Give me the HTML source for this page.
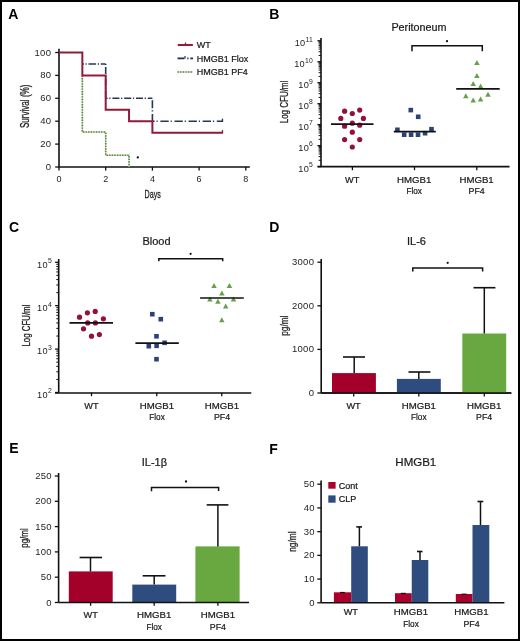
<!DOCTYPE html>
<html><head><meta charset="utf-8"><style>
html,body{margin:0;padding:0;background:#fff;}
svg{display:block;font-family:"Liberation Sans",sans-serif;will-change:transform;}
text.s{stroke:#121212;stroke-width:0.22px;}
</style></head><body>
<svg width="520" height="641" viewBox="0 0 520 641">
<rect x="1" y="1" width="518" height="639" fill="#fff" stroke="#000" stroke-width="2"/>
<text x="8.2" y="18.6" font-size="14" font-weight="bold" fill="#000">A</text>
<line x1="59.00" y1="48.80" x2="59.00" y2="167.00" stroke="#111" stroke-width="1.6" />
<line x1="55.20" y1="167.00" x2="59.00" y2="167.00" stroke="#111" stroke-width="1.3" />
<text x="51.30" y="170.00" font-size="9.5" text-anchor="end" fill="#1e1e1e" letter-spacing="0.3">0</text>
<line x1="55.20" y1="144.10" x2="59.00" y2="144.10" stroke="#111" stroke-width="1.3" />
<text x="51.30" y="147.10" font-size="9.5" text-anchor="end" fill="#1e1e1e" letter-spacing="0.3">20</text>
<line x1="55.20" y1="121.20" x2="59.00" y2="121.20" stroke="#111" stroke-width="1.3" />
<text x="51.30" y="124.20" font-size="9.5" text-anchor="end" fill="#1e1e1e" letter-spacing="0.3">40</text>
<line x1="55.20" y1="98.30" x2="59.00" y2="98.30" stroke="#111" stroke-width="1.3" />
<text x="51.30" y="101.30" font-size="9.5" text-anchor="end" fill="#1e1e1e" letter-spacing="0.3">60</text>
<line x1="55.20" y1="75.40" x2="59.00" y2="75.40" stroke="#111" stroke-width="1.3" />
<text x="51.30" y="78.40" font-size="9.5" text-anchor="end" fill="#1e1e1e" letter-spacing="0.3">80</text>
<line x1="55.20" y1="52.50" x2="59.00" y2="52.50" stroke="#111" stroke-width="1.3" />
<text x="51.30" y="55.50" font-size="9.5" text-anchor="end" fill="#1e1e1e" letter-spacing="0.3">100</text>
<line x1="58.20" y1="167.00" x2="249.80" y2="167.00" stroke="#111" stroke-width="1.6" />
<line x1="59.00" y1="167.00" x2="59.00" y2="170.60" stroke="#111" stroke-width="1.3" />
<text x="59.00" y="182.20" font-size="9" text-anchor="middle" fill="#1e1e1e" >0</text>
<line x1="105.70" y1="167.00" x2="105.70" y2="170.60" stroke="#111" stroke-width="1.3" />
<text x="105.70" y="182.20" font-size="9" text-anchor="middle" fill="#1e1e1e" >2</text>
<line x1="152.40" y1="167.00" x2="152.40" y2="170.60" stroke="#111" stroke-width="1.3" />
<text x="152.40" y="182.20" font-size="9" text-anchor="middle" fill="#1e1e1e" >4</text>
<line x1="199.10" y1="167.00" x2="199.10" y2="170.60" stroke="#111" stroke-width="1.3" />
<text x="199.10" y="182.20" font-size="9" text-anchor="middle" fill="#1e1e1e" >6</text>
<line x1="245.80" y1="167.00" x2="245.80" y2="170.60" stroke="#111" stroke-width="1.3" />
<text x="245.80" y="182.20" font-size="9" text-anchor="middle" fill="#1e1e1e" >8</text>
<text x="152.7" y="198" font-size="11" text-anchor="middle" fill="#1e1e1e" stroke="#1e1e1e" stroke-width="0.3" textLength="16.2" lengthAdjust="spacingAndGlyphs">Days</text>
<text transform="translate(25.00,106.30) rotate(-90)" x="0" y="3.6" font-size="12" text-anchor="middle" fill="#1e1e1e" stroke="#1e1e1e" stroke-width="0.3" textLength="43.5" lengthAdjust="spacingAndGlyphs">Survival (%)</text>
<path d="M82.35,75.40 V132.05 H105.70 V155.25 H129.05 V167.00" fill="none" stroke="#cfe4bd" stroke-width="1.5"/>
<path d="M82.35,75.40 V132.05 H105.70 V155.25 H129.05 V167.00" fill="none" stroke="#587e40" stroke-width="1.6" stroke-dasharray="1.4,1.2"/>
<line x1="82.35" y1="63.95" x2="105.70" y2="63.95" stroke="#24375a" stroke-width="1.6" stroke-dasharray="7.6,1.7,1.2,1.8" stroke-dashoffset="6.15"/>
<line x1="105.70" y1="63.95" x2="105.70" y2="98.30" stroke="#24375a" stroke-width="1.6" stroke-dasharray="7.0,1.7,1.2,1.9" stroke-dashoffset="8.80"/>
<line x1="105.70" y1="98.30" x2="152.40" y2="98.30" stroke="#24375a" stroke-width="1.6" stroke-dasharray="7.0,1.7,1.2,1.9" stroke-dashoffset="5.10"/>
<line x1="152.40" y1="98.30" x2="152.40" y2="121.20" stroke="#24375a" stroke-width="1.6" stroke-dasharray="8.0,2.0,1.2,2.6" stroke-dashoffset="11.80"/>
<line x1="152.40" y1="121.20" x2="222.45" y2="121.20" stroke="#24375a" stroke-width="1.6" stroke-dasharray="8.3,1.9,1.2,2.7" stroke-dashoffset="6.10"/>
<line x1="222.45" y1="118.70" x2="222.45" y2="122.00" stroke="#24375a" stroke-width="1.4" />
<path d="M59.00,52.50 H82.35 V75.40 H105.70 V109.75 H129.05 V121.20 H152.40 V132.65 H222.45" fill="none" stroke="#921a3b" stroke-width="2"/>
<line x1="222.45" y1="130.15" x2="222.45" y2="133.45" stroke="#921a3b" stroke-width="1.4" />
<circle cx="137.80" cy="157.40" r="1.15" fill="#111"/>
<line x1="177.80" y1="45.00" x2="192.90" y2="45.00" stroke="#921a3b" stroke-width="2" />
<line x1="185.50" y1="42.50" x2="185.50" y2="45.00" stroke="#921a3b" stroke-width="1.3" />
<path d="M177.5,58.4 H184.5 M187.2,58.4 H188.5 M190.3,58.4 H193" stroke="#1f3152" stroke-width="1.7" fill="none"/>
<line x1="185.00" y1="56.00" x2="185.00" y2="58.40" stroke="#24375a" stroke-width="1.2" />
<line x1="177.5" y1="72" x2="193" y2="72" stroke="#cfe4bd" stroke-width="1.4"/>
<line x1="177.5" y1="72" x2="193" y2="72" stroke="#587e40" stroke-width="1.5" stroke-dasharray="1.4,1.2"/>
<text x="196.80" y="48.20" font-size="9" text-anchor="start" fill="#1e1e1e" class="s">WT</text>
<text x="196.80" y="61.60" font-size="9" text-anchor="start" fill="#1e1e1e" class="s">HMGB1 Flox</text>
<text x="196.80" y="75.10" font-size="9" text-anchor="start" fill="#1e1e1e" class="s">HMGB1 PF4</text>
<text x="269.3" y="18.6" font-size="14" font-weight="bold" fill="#000">B</text>
<text x="419.00" y="30.80" font-size="10.8" text-anchor="middle" fill="#1e1e1e" class="s">Peritoneum</text>
<line x1="321.00" y1="37.90" x2="321.00" y2="166.60" stroke="#111" stroke-width="1.6" />
<line x1="317.40" y1="166.60" x2="321.00" y2="166.60" stroke="#111" stroke-width="1.3" />
<text x="313.20" y="171.80" font-size="9.2" text-anchor="end" fill="#1e1e1e" letter-spacing="0.3">10<tspan dy="-4.4" font-size="6.8">5</tspan></text>
<line x1="318.60" y1="160.29" x2="321.00" y2="160.29" stroke="#111" stroke-width="1.0" />
<line x1="318.60" y1="156.59" x2="321.00" y2="156.59" stroke="#111" stroke-width="1.0" />
<line x1="318.60" y1="153.97" x2="321.00" y2="153.97" stroke="#111" stroke-width="1.0" />
<line x1="318.60" y1="151.94" x2="321.00" y2="151.94" stroke="#111" stroke-width="1.0" />
<line x1="318.60" y1="150.28" x2="321.00" y2="150.28" stroke="#111" stroke-width="1.0" />
<line x1="318.60" y1="148.88" x2="321.00" y2="148.88" stroke="#111" stroke-width="1.0" />
<line x1="318.60" y1="147.66" x2="321.00" y2="147.66" stroke="#111" stroke-width="1.0" />
<line x1="318.60" y1="146.59" x2="321.00" y2="146.59" stroke="#111" stroke-width="1.0" />
<line x1="317.40" y1="145.63" x2="321.00" y2="145.63" stroke="#111" stroke-width="1.3" />
<text x="313.20" y="150.83" font-size="9.2" text-anchor="end" fill="#1e1e1e" letter-spacing="0.3">10<tspan dy="-4.4" font-size="6.8">6</tspan></text>
<line x1="318.60" y1="139.32" x2="321.00" y2="139.32" stroke="#111" stroke-width="1.0" />
<line x1="318.60" y1="135.62" x2="321.00" y2="135.62" stroke="#111" stroke-width="1.0" />
<line x1="318.60" y1="133.00" x2="321.00" y2="133.00" stroke="#111" stroke-width="1.0" />
<line x1="318.60" y1="130.97" x2="321.00" y2="130.97" stroke="#111" stroke-width="1.0" />
<line x1="318.60" y1="129.31" x2="321.00" y2="129.31" stroke="#111" stroke-width="1.0" />
<line x1="318.60" y1="127.91" x2="321.00" y2="127.91" stroke="#111" stroke-width="1.0" />
<line x1="318.60" y1="126.69" x2="321.00" y2="126.69" stroke="#111" stroke-width="1.0" />
<line x1="318.60" y1="125.62" x2="321.00" y2="125.62" stroke="#111" stroke-width="1.0" />
<line x1="317.40" y1="124.66" x2="321.00" y2="124.66" stroke="#111" stroke-width="1.3" />
<text x="313.20" y="129.86" font-size="9.2" text-anchor="end" fill="#1e1e1e" letter-spacing="0.3">10<tspan dy="-4.4" font-size="6.8">7</tspan></text>
<line x1="318.60" y1="118.35" x2="321.00" y2="118.35" stroke="#111" stroke-width="1.0" />
<line x1="318.60" y1="114.65" x2="321.00" y2="114.65" stroke="#111" stroke-width="1.0" />
<line x1="318.60" y1="112.03" x2="321.00" y2="112.03" stroke="#111" stroke-width="1.0" />
<line x1="318.60" y1="110.00" x2="321.00" y2="110.00" stroke="#111" stroke-width="1.0" />
<line x1="318.60" y1="108.34" x2="321.00" y2="108.34" stroke="#111" stroke-width="1.0" />
<line x1="318.60" y1="106.94" x2="321.00" y2="106.94" stroke="#111" stroke-width="1.0" />
<line x1="318.60" y1="105.72" x2="321.00" y2="105.72" stroke="#111" stroke-width="1.0" />
<line x1="318.60" y1="104.65" x2="321.00" y2="104.65" stroke="#111" stroke-width="1.0" />
<line x1="317.40" y1="103.69" x2="321.00" y2="103.69" stroke="#111" stroke-width="1.3" />
<text x="313.20" y="108.89" font-size="9.2" text-anchor="end" fill="#1e1e1e" letter-spacing="0.3">10<tspan dy="-4.4" font-size="6.8">8</tspan></text>
<line x1="318.60" y1="97.38" x2="321.00" y2="97.38" stroke="#111" stroke-width="1.0" />
<line x1="318.60" y1="93.68" x2="321.00" y2="93.68" stroke="#111" stroke-width="1.0" />
<line x1="318.60" y1="91.06" x2="321.00" y2="91.06" stroke="#111" stroke-width="1.0" />
<line x1="318.60" y1="89.03" x2="321.00" y2="89.03" stroke="#111" stroke-width="1.0" />
<line x1="318.60" y1="87.37" x2="321.00" y2="87.37" stroke="#111" stroke-width="1.0" />
<line x1="318.60" y1="85.97" x2="321.00" y2="85.97" stroke="#111" stroke-width="1.0" />
<line x1="318.60" y1="84.75" x2="321.00" y2="84.75" stroke="#111" stroke-width="1.0" />
<line x1="318.60" y1="83.68" x2="321.00" y2="83.68" stroke="#111" stroke-width="1.0" />
<line x1="317.40" y1="82.72" x2="321.00" y2="82.72" stroke="#111" stroke-width="1.3" />
<text x="313.20" y="87.92" font-size="9.2" text-anchor="end" fill="#1e1e1e" letter-spacing="0.3">10<tspan dy="-4.4" font-size="6.8">9</tspan></text>
<line x1="318.60" y1="76.41" x2="321.00" y2="76.41" stroke="#111" stroke-width="1.0" />
<line x1="318.60" y1="72.71" x2="321.00" y2="72.71" stroke="#111" stroke-width="1.0" />
<line x1="318.60" y1="70.09" x2="321.00" y2="70.09" stroke="#111" stroke-width="1.0" />
<line x1="318.60" y1="68.06" x2="321.00" y2="68.06" stroke="#111" stroke-width="1.0" />
<line x1="318.60" y1="66.40" x2="321.00" y2="66.40" stroke="#111" stroke-width="1.0" />
<line x1="318.60" y1="65.00" x2="321.00" y2="65.00" stroke="#111" stroke-width="1.0" />
<line x1="318.60" y1="63.78" x2="321.00" y2="63.78" stroke="#111" stroke-width="1.0" />
<line x1="318.60" y1="62.71" x2="321.00" y2="62.71" stroke="#111" stroke-width="1.0" />
<line x1="317.40" y1="61.75" x2="321.00" y2="61.75" stroke="#111" stroke-width="1.3" />
<text x="313.20" y="66.95" font-size="9.2" text-anchor="end" fill="#1e1e1e" letter-spacing="0.3">10<tspan dy="-4.4" font-size="6.8">10</tspan></text>
<line x1="318.60" y1="55.44" x2="321.00" y2="55.44" stroke="#111" stroke-width="1.0" />
<line x1="318.60" y1="51.74" x2="321.00" y2="51.74" stroke="#111" stroke-width="1.0" />
<line x1="318.60" y1="49.12" x2="321.00" y2="49.12" stroke="#111" stroke-width="1.0" />
<line x1="318.60" y1="47.09" x2="321.00" y2="47.09" stroke="#111" stroke-width="1.0" />
<line x1="318.60" y1="45.43" x2="321.00" y2="45.43" stroke="#111" stroke-width="1.0" />
<line x1="318.60" y1="44.03" x2="321.00" y2="44.03" stroke="#111" stroke-width="1.0" />
<line x1="318.60" y1="42.81" x2="321.00" y2="42.81" stroke="#111" stroke-width="1.0" />
<line x1="318.60" y1="41.74" x2="321.00" y2="41.74" stroke="#111" stroke-width="1.0" />
<line x1="317.40" y1="40.78" x2="321.00" y2="40.78" stroke="#111" stroke-width="1.3" />
<text x="313.20" y="45.98" font-size="9.2" text-anchor="end" fill="#1e1e1e" letter-spacing="0.3">10<tspan dy="-4.4" font-size="6.8">11</tspan></text>
<line x1="317.70" y1="166.60" x2="509.50" y2="166.60" stroke="#111" stroke-width="1.6" />
<line x1="352.40" y1="166.60" x2="352.40" y2="170.20" stroke="#111" stroke-width="1.3" />
<line x1="414.50" y1="166.60" x2="414.50" y2="170.20" stroke="#111" stroke-width="1.3" />
<line x1="476.80" y1="166.60" x2="476.80" y2="170.20" stroke="#111" stroke-width="1.3" />
<text class="s" x="352.20" y="182.60" font-size="9.2" text-anchor="middle" fill="#1e1e1e" textLength="14.30" lengthAdjust="spacingAndGlyphs">WT</text>
<text class="s" x="414.20" y="182.60" font-size="9.2" text-anchor="middle" fill="#1e1e1e" textLength="34.22" lengthAdjust="spacingAndGlyphs">HMGB1</text>
<text class="s" x="414.20" y="193.80" font-size="9.2" text-anchor="middle" fill="#1e1e1e" textLength="15.48" lengthAdjust="spacingAndGlyphs">Flox</text>
<text class="s" x="476.60" y="182.60" font-size="9.2" text-anchor="middle" fill="#1e1e1e" textLength="34.22" lengthAdjust="spacingAndGlyphs">HMGB1</text>
<text class="s" x="476.60" y="193.80" font-size="9.2" text-anchor="middle" fill="#1e1e1e" textLength="16.17" lengthAdjust="spacingAndGlyphs">PF4</text>
<text transform="translate(284.20,102.00) rotate(-90)" x="0" y="3.6" font-size="11" text-anchor="middle" fill="#1e1e1e" stroke="#1e1e1e" stroke-width="0.3" textLength="42.6" lengthAdjust="spacingAndGlyphs">Log CFU/ml</text>
<circle cx="344.60" cy="111.20" r="2.6" fill="#93103a"/>
<circle cx="352.30" cy="113.50" r="2.6" fill="#93103a"/>
<circle cx="359.70" cy="110.10" r="2.6" fill="#93103a"/>
<circle cx="340.80" cy="118.40" r="2.6" fill="#93103a"/>
<circle cx="363.40" cy="118.40" r="2.6" fill="#93103a"/>
<circle cx="352.30" cy="123.20" r="2.6" fill="#93103a"/>
<circle cx="344.60" cy="126.20" r="2.6" fill="#93103a"/>
<circle cx="359.70" cy="125.20" r="2.6" fill="#93103a"/>
<circle cx="352.30" cy="132.20" r="2.6" fill="#93103a"/>
<circle cx="344.60" cy="139.60" r="2.6" fill="#93103a"/>
<circle cx="359.70" cy="139.60" r="2.6" fill="#93103a"/>
<circle cx="352.30" cy="147.00" r="2.6" fill="#93103a"/>
<rect x="408.50" y="107.80" width="4.6" height="4.6" fill="#2b4276"/>
<rect x="415.90" y="114.50" width="4.6" height="4.6" fill="#2b4276"/>
<rect x="395.10" y="127.50" width="4.6" height="4.6" fill="#2b4276"/>
<rect x="429.20" y="126.90" width="4.6" height="4.6" fill="#2b4276"/>
<rect x="401.90" y="132.40" width="4.6" height="4.6" fill="#2b4276"/>
<rect x="408.80" y="132.40" width="4.6" height="4.6" fill="#2b4276"/>
<rect x="415.70" y="132.40" width="4.6" height="4.6" fill="#2b4276"/>
<rect x="422.80" y="130.90" width="4.6" height="4.6" fill="#2b4276"/>
<path d="M474.15,65.10 L476.90,60.10 L479.65,65.10 Z" fill="#67a04b"/>
<path d="M474.15,78.00 L476.90,73.00 L479.65,78.00 Z" fill="#67a04b"/>
<path d="M470.45,86.00 L473.20,81.00 L475.95,86.00 Z" fill="#67a04b"/>
<path d="M477.85,88.50 L480.60,83.50 L483.35,88.50 Z" fill="#67a04b"/>
<path d="M485.25,96.80 L488.00,91.80 L490.75,96.80 Z" fill="#67a04b"/>
<path d="M463.05,98.30 L465.80,93.30 L468.55,98.30 Z" fill="#67a04b"/>
<path d="M470.45,102.50 L473.20,97.50 L475.95,102.50 Z" fill="#67a04b"/>
<path d="M477.85,101.40 L480.60,96.40 L483.35,101.40 Z" fill="#67a04b"/>
<line x1="331.00" y1="124.20" x2="373.50" y2="124.20" stroke="#111" stroke-width="1.7" />
<line x1="393.80" y1="131.60" x2="435.80" y2="131.60" stroke="#111" stroke-width="1.7" />
<line x1="456.20" y1="88.90" x2="499.70" y2="88.90" stroke="#111" stroke-width="1.7" />
<path d="M412.00,51.20 V45.80 H482.30 V51.20" fill="none" stroke="#111" stroke-width="1.5"/>
<circle cx="447.00" cy="41.20" r="1.15" fill="#111"/>
<text x="8.899999999999999" y="231.9" font-size="14" font-weight="bold" fill="#000">C</text>
<text x="156.50" y="244.50" font-size="11" text-anchor="middle" fill="#1e1e1e" class="s">Blood</text>
<line x1="58.70" y1="259.00" x2="58.70" y2="392.70" stroke="#111" stroke-width="1.6" />
<line x1="55.10" y1="392.50" x2="58.70" y2="392.50" stroke="#111" stroke-width="1.3" />
<text x="52.00" y="397.70" font-size="9.2" text-anchor="end" fill="#1e1e1e" letter-spacing="0.3">10<tspan dy="-4.4" font-size="6.8">2</tspan></text>
<line x1="56.30" y1="379.44" x2="58.70" y2="379.44" stroke="#111" stroke-width="1.0" />
<line x1="56.30" y1="371.79" x2="58.70" y2="371.79" stroke="#111" stroke-width="1.0" />
<line x1="56.30" y1="366.37" x2="58.70" y2="366.37" stroke="#111" stroke-width="1.0" />
<line x1="56.30" y1="362.16" x2="58.70" y2="362.16" stroke="#111" stroke-width="1.0" />
<line x1="56.30" y1="358.73" x2="58.70" y2="358.73" stroke="#111" stroke-width="1.0" />
<line x1="56.30" y1="355.82" x2="58.70" y2="355.82" stroke="#111" stroke-width="1.0" />
<line x1="56.30" y1="353.31" x2="58.70" y2="353.31" stroke="#111" stroke-width="1.0" />
<line x1="56.30" y1="351.09" x2="58.70" y2="351.09" stroke="#111" stroke-width="1.0" />
<line x1="55.10" y1="349.10" x2="58.70" y2="349.10" stroke="#111" stroke-width="1.3" />
<text x="52.00" y="354.30" font-size="9.2" text-anchor="end" fill="#1e1e1e" letter-spacing="0.3">10<tspan dy="-4.4" font-size="6.8">3</tspan></text>
<line x1="56.30" y1="336.04" x2="58.70" y2="336.04" stroke="#111" stroke-width="1.0" />
<line x1="56.30" y1="328.39" x2="58.70" y2="328.39" stroke="#111" stroke-width="1.0" />
<line x1="56.30" y1="322.97" x2="58.70" y2="322.97" stroke="#111" stroke-width="1.0" />
<line x1="56.30" y1="318.76" x2="58.70" y2="318.76" stroke="#111" stroke-width="1.0" />
<line x1="56.30" y1="315.33" x2="58.70" y2="315.33" stroke="#111" stroke-width="1.0" />
<line x1="56.30" y1="312.42" x2="58.70" y2="312.42" stroke="#111" stroke-width="1.0" />
<line x1="56.30" y1="309.91" x2="58.70" y2="309.91" stroke="#111" stroke-width="1.0" />
<line x1="56.30" y1="307.69" x2="58.70" y2="307.69" stroke="#111" stroke-width="1.0" />
<line x1="55.10" y1="305.70" x2="58.70" y2="305.70" stroke="#111" stroke-width="1.3" />
<text x="52.00" y="310.90" font-size="9.2" text-anchor="end" fill="#1e1e1e" letter-spacing="0.3">10<tspan dy="-4.4" font-size="6.8">4</tspan></text>
<line x1="56.30" y1="292.64" x2="58.70" y2="292.64" stroke="#111" stroke-width="1.0" />
<line x1="56.30" y1="284.99" x2="58.70" y2="284.99" stroke="#111" stroke-width="1.0" />
<line x1="56.30" y1="279.57" x2="58.70" y2="279.57" stroke="#111" stroke-width="1.0" />
<line x1="56.30" y1="275.36" x2="58.70" y2="275.36" stroke="#111" stroke-width="1.0" />
<line x1="56.30" y1="271.93" x2="58.70" y2="271.93" stroke="#111" stroke-width="1.0" />
<line x1="56.30" y1="269.02" x2="58.70" y2="269.02" stroke="#111" stroke-width="1.0" />
<line x1="56.30" y1="266.51" x2="58.70" y2="266.51" stroke="#111" stroke-width="1.0" />
<line x1="56.30" y1="264.29" x2="58.70" y2="264.29" stroke="#111" stroke-width="1.0" />
<line x1="55.10" y1="262.30" x2="58.70" y2="262.30" stroke="#111" stroke-width="1.3" />
<text x="52.00" y="267.50" font-size="9.2" text-anchor="end" fill="#1e1e1e" letter-spacing="0.3">10<tspan dy="-4.4" font-size="6.8">5</tspan></text>
<line x1="55.00" y1="393.00" x2="251.30" y2="393.00" stroke="#111" stroke-width="1.6" />
<line x1="91.50" y1="392.70" x2="91.50" y2="396.20" stroke="#111" stroke-width="1.3" />
<line x1="156.75" y1="392.70" x2="156.75" y2="396.20" stroke="#111" stroke-width="1.3" />
<line x1="221.75" y1="392.70" x2="221.75" y2="396.20" stroke="#111" stroke-width="1.3" />
<text class="s" x="91.50" y="408.60" font-size="9.2" text-anchor="middle" fill="#1e1e1e" textLength="14.30" lengthAdjust="spacingAndGlyphs">WT</text>
<text class="s" x="157.00" y="408.60" font-size="9.2" text-anchor="middle" fill="#1e1e1e" textLength="34.22" lengthAdjust="spacingAndGlyphs">HMGB1</text>
<text class="s" x="157.00" y="420.40" font-size="9.2" text-anchor="middle" fill="#1e1e1e" textLength="15.48" lengthAdjust="spacingAndGlyphs">Flox</text>
<text class="s" x="222.00" y="408.60" font-size="9.2" text-anchor="middle" fill="#1e1e1e" textLength="34.22" lengthAdjust="spacingAndGlyphs">HMGB1</text>
<text class="s" x="222.00" y="420.40" font-size="9.2" text-anchor="middle" fill="#1e1e1e" textLength="16.17" lengthAdjust="spacingAndGlyphs">PF4</text>
<text transform="translate(26.70,325.60) rotate(-90)" x="0" y="3.6" font-size="11" text-anchor="middle" fill="#1e1e1e" stroke="#1e1e1e" stroke-width="0.3" textLength="42" lengthAdjust="spacingAndGlyphs">Log CFU/ml</text>
<circle cx="87.40" cy="312.80" r="2.6" fill="#93103a"/>
<circle cx="95.20" cy="311.40" r="2.6" fill="#93103a"/>
<circle cx="79.50" cy="317.20" r="2.6" fill="#93103a"/>
<circle cx="103.40" cy="318.80" r="2.6" fill="#93103a"/>
<circle cx="87.70" cy="322.90" r="2.6" fill="#93103a"/>
<circle cx="95.40" cy="322.90" r="2.6" fill="#93103a"/>
<circle cx="83.50" cy="328.80" r="2.6" fill="#93103a"/>
<circle cx="91.50" cy="336.20" r="2.6" fill="#93103a"/>
<circle cx="99.40" cy="334.60" r="2.6" fill="#93103a"/>
<rect x="150.00" y="311.90" width="4.6" height="4.6" fill="#2b4276"/>
<rect x="158.50" y="316.90" width="4.6" height="4.6" fill="#2b4276"/>
<rect x="154.20" y="334.00" width="4.6" height="4.6" fill="#2b4276"/>
<rect x="162.30" y="340.50" width="4.6" height="4.6" fill="#2b4276"/>
<rect x="146.50" y="343.90" width="4.6" height="4.6" fill="#2b4276"/>
<rect x="154.30" y="343.50" width="4.6" height="4.6" fill="#2b4276"/>
<rect x="154.20" y="356.90" width="4.6" height="4.6" fill="#2b4276"/>
<path d="M211.25,288.00 L214.00,283.00 L216.75,288.00 Z" fill="#67a04b"/>
<path d="M226.65,288.00 L229.40,283.00 L232.15,288.00 Z" fill="#67a04b"/>
<path d="M219.15,295.60 L221.90,290.60 L224.65,295.60 Z" fill="#67a04b"/>
<path d="M207.15,301.40 L209.90,296.40 L212.65,301.40 Z" fill="#67a04b"/>
<path d="M215.15,303.70 L217.90,298.70 L220.65,303.70 Z" fill="#67a04b"/>
<path d="M230.75,301.40 L233.50,296.40 L236.25,301.40 Z" fill="#67a04b"/>
<path d="M222.95,308.60 L225.70,303.60 L228.45,308.60 Z" fill="#67a04b"/>
<path d="M219.05,322.30 L221.80,317.30 L224.55,322.30 Z" fill="#67a04b"/>
<line x1="69.50" y1="322.90" x2="113.00" y2="322.90" stroke="#111" stroke-width="1.7" />
<line x1="135.40" y1="343.10" x2="178.80" y2="343.10" stroke="#111" stroke-width="1.7" />
<line x1="200.10" y1="298.00" x2="243.80" y2="298.00" stroke="#111" stroke-width="1.7" />
<path d="M158.80,261.30 V258.70 H222.70 V261.30" fill="none" stroke="#111" stroke-width="1.5"/>
<circle cx="190.60" cy="253.80" r="1.15" fill="#111"/>
<text x="269.2" y="231.60000000000002" font-size="14" font-weight="bold" fill="#000">D</text>
<text x="416.50" y="244.50" font-size="11" text-anchor="middle" fill="#1e1e1e" class="s">IL-6</text>
<line x1="321.20" y1="258.90" x2="321.20" y2="393.00" stroke="#111" stroke-width="1.6" />
<line x1="317.40" y1="393.00" x2="321.20" y2="393.00" stroke="#111" stroke-width="1.3" />
<text x="314.30" y="396.00" font-size="9.5" text-anchor="end" fill="#1e1e1e" letter-spacing="0.3">0</text>
<line x1="317.40" y1="349.40" x2="321.20" y2="349.40" stroke="#111" stroke-width="1.3" />
<text x="314.30" y="352.40" font-size="9.5" text-anchor="end" fill="#1e1e1e" letter-spacing="0.3">1000</text>
<line x1="317.40" y1="305.80" x2="321.20" y2="305.80" stroke="#111" stroke-width="1.3" />
<text x="314.30" y="308.80" font-size="9.5" text-anchor="end" fill="#1e1e1e" letter-spacing="0.3">2000</text>
<line x1="317.40" y1="262.20" x2="321.20" y2="262.20" stroke="#111" stroke-width="1.3" />
<text x="314.30" y="265.20" font-size="9.5" text-anchor="end" fill="#1e1e1e" letter-spacing="0.3">3000</text>
<line x1="321.20" y1="393.00" x2="511.30" y2="393.00" stroke="#111" stroke-width="1.6" />
<rect x="332" y="373.1" width="43.9" height="19.899999999999977" fill="#a3002a"/>
<rect x="396.9" y="378.9" width="43.9" height="14.100000000000023" fill="#2e4d7e"/>
<rect x="462.3" y="333.5" width="43.9" height="59.5" fill="#69a840"/>
<line x1="354.20" y1="357.00" x2="354.20" y2="373.10" stroke="#111" stroke-width="1.5" />
<line x1="343.00" y1="357.00" x2="365.00" y2="357.00" stroke="#111" stroke-width="1.6" />
<line x1="418.80" y1="372.00" x2="418.80" y2="378.90" stroke="#111" stroke-width="1.5" />
<line x1="408.50" y1="372.00" x2="430.40" y2="372.00" stroke="#111" stroke-width="1.6" />
<line x1="484.30" y1="287.70" x2="484.30" y2="333.50" stroke="#111" stroke-width="1.5" />
<line x1="473.50" y1="287.70" x2="495.40" y2="287.70" stroke="#111" stroke-width="1.6" />
<line x1="321.20" y1="393.00" x2="511.30" y2="393.00" stroke="#111" stroke-width="1.6" />
<line x1="353.70" y1="393.00" x2="353.70" y2="396.40" stroke="#111" stroke-width="1.3" />
<line x1="418.80" y1="393.00" x2="418.80" y2="396.40" stroke="#111" stroke-width="1.3" />
<line x1="484.30" y1="393.00" x2="484.30" y2="396.40" stroke="#111" stroke-width="1.3" />
<text class="s" x="353.60" y="408.80" font-size="9.2" text-anchor="middle" fill="#1e1e1e" textLength="14.30" lengthAdjust="spacingAndGlyphs">WT</text>
<text class="s" x="418.80" y="408.80" font-size="9.2" text-anchor="middle" fill="#1e1e1e" textLength="34.22" lengthAdjust="spacingAndGlyphs">HMGB1</text>
<text class="s" x="418.80" y="420.40" font-size="9.2" text-anchor="middle" fill="#1e1e1e" textLength="15.48" lengthAdjust="spacingAndGlyphs">Flox</text>
<text class="s" x="484.20" y="408.80" font-size="9.2" text-anchor="middle" fill="#1e1e1e" textLength="34.22" lengthAdjust="spacingAndGlyphs">HMGB1</text>
<text class="s" x="484.20" y="420.40" font-size="9.2" text-anchor="middle" fill="#1e1e1e" textLength="16.17" lengthAdjust="spacingAndGlyphs">PF4</text>
<text transform="translate(284.00,325.70) rotate(-90)" x="0" y="3.6" font-size="11" text-anchor="middle" fill="#1e1e1e" stroke="#1e1e1e" stroke-width="0.3" textLength="20.2" lengthAdjust="spacingAndGlyphs">pg/ml</text>
<path d="M412.80,271.40 V268.00 H482.60 V271.40" fill="none" stroke="#111" stroke-width="1.5"/>
<circle cx="447.70" cy="262.80" r="1.15" fill="#111"/>
<text x="9.2" y="453.2" font-size="14" font-weight="bold" fill="#000">E</text>
<text x="154.40" y="466.00" font-size="11" text-anchor="middle" fill="#1e1e1e" class="s">IL-1&#946;</text>
<line x1="58.60" y1="473.00" x2="58.60" y2="602.50" stroke="#111" stroke-width="1.6" />
<line x1="54.80" y1="602.50" x2="58.60" y2="602.50" stroke="#111" stroke-width="1.3" />
<text x="51.90" y="605.50" font-size="9.5" text-anchor="end" fill="#1e1e1e" letter-spacing="0.3">0</text>
<line x1="54.80" y1="577.20" x2="58.60" y2="577.20" stroke="#111" stroke-width="1.3" />
<text x="51.90" y="580.20" font-size="9.5" text-anchor="end" fill="#1e1e1e" letter-spacing="0.3">50</text>
<line x1="54.80" y1="551.90" x2="58.60" y2="551.90" stroke="#111" stroke-width="1.3" />
<text x="51.90" y="554.90" font-size="9.5" text-anchor="end" fill="#1e1e1e" letter-spacing="0.3">100</text>
<line x1="54.80" y1="526.60" x2="58.60" y2="526.60" stroke="#111" stroke-width="1.3" />
<text x="51.90" y="529.60" font-size="9.5" text-anchor="end" fill="#1e1e1e" letter-spacing="0.3">150</text>
<line x1="54.80" y1="501.30" x2="58.60" y2="501.30" stroke="#111" stroke-width="1.3" />
<text x="51.90" y="504.30" font-size="9.5" text-anchor="end" fill="#1e1e1e" letter-spacing="0.3">200</text>
<line x1="54.80" y1="476.00" x2="58.60" y2="476.00" stroke="#111" stroke-width="1.3" />
<text x="51.90" y="479.00" font-size="9.5" text-anchor="end" fill="#1e1e1e" letter-spacing="0.3">250</text>
<rect x="68.8" y="571.4" width="43.9" height="31.100000000000023" fill="#a3002a"/>
<rect x="132.3" y="584.6" width="43.9" height="17.899999999999977" fill="#2e4d7e"/>
<rect x="195.4" y="546.4" width="44.2" height="56.10000000000002" fill="#69a840"/>
<line x1="90.50" y1="557.50" x2="90.50" y2="571.40" stroke="#111" stroke-width="1.5" />
<line x1="79.60" y1="557.50" x2="102.00" y2="557.50" stroke="#111" stroke-width="1.6" />
<line x1="154.20" y1="575.80" x2="154.20" y2="584.60" stroke="#111" stroke-width="1.5" />
<line x1="142.70" y1="575.80" x2="165.50" y2="575.80" stroke="#111" stroke-width="1.6" />
<line x1="217.90" y1="504.90" x2="217.90" y2="546.40" stroke="#111" stroke-width="1.5" />
<line x1="206.70" y1="504.90" x2="228.40" y2="504.90" stroke="#111" stroke-width="1.6" />
<line x1="58.60" y1="602.50" x2="249.00" y2="602.50" stroke="#111" stroke-width="1.6" />
<line x1="90.60" y1="602.50" x2="90.60" y2="605.80" stroke="#111" stroke-width="1.3" />
<line x1="154.20" y1="602.50" x2="154.20" y2="605.80" stroke="#111" stroke-width="1.3" />
<line x1="217.90" y1="602.50" x2="217.90" y2="605.80" stroke="#111" stroke-width="1.3" />
<text class="s" x="90.70" y="618.30" font-size="9.2" text-anchor="middle" fill="#1e1e1e" textLength="14.30" lengthAdjust="spacingAndGlyphs">WT</text>
<text class="s" x="154.20" y="618.30" font-size="9.2" text-anchor="middle" fill="#1e1e1e" textLength="34.22" lengthAdjust="spacingAndGlyphs">HMGB1</text>
<text class="s" x="154.20" y="630.30" font-size="9.2" text-anchor="middle" fill="#1e1e1e" textLength="15.48" lengthAdjust="spacingAndGlyphs">Flox</text>
<text class="s" x="217.90" y="618.30" font-size="9.2" text-anchor="middle" fill="#1e1e1e" textLength="34.22" lengthAdjust="spacingAndGlyphs">HMGB1</text>
<text class="s" x="217.90" y="630.30" font-size="9.2" text-anchor="middle" fill="#1e1e1e" textLength="16.17" lengthAdjust="spacingAndGlyphs">PF4</text>
<text transform="translate(24.50,538.00) rotate(-90)" x="0" y="3.6" font-size="11" text-anchor="middle" fill="#1e1e1e" stroke="#1e1e1e" stroke-width="0.3" textLength="19.5" lengthAdjust="spacingAndGlyphs">pg/ml</text>
<path d="M151.50,491.20 V487.40 H218.60 V490.90" fill="none" stroke="#111" stroke-width="1.5"/>
<circle cx="186.00" cy="481.50" r="1.15" fill="#111"/>
<text x="269.3" y="453.8" font-size="14" font-weight="bold" fill="#000">F</text>
<text x="415.80" y="466.10" font-size="11.5" text-anchor="middle" fill="#1e1e1e" class="s">HMGB1</text>
<line x1="321.10" y1="480.40" x2="321.10" y2="602.80" stroke="#111" stroke-width="1.6" />
<line x1="317.30" y1="602.80" x2="321.10" y2="602.80" stroke="#111" stroke-width="1.3" />
<text x="314.80" y="605.80" font-size="9.5" text-anchor="end" fill="#1e1e1e" letter-spacing="0.3">0</text>
<line x1="317.30" y1="579.08" x2="321.10" y2="579.08" stroke="#111" stroke-width="1.3" />
<text x="314.80" y="582.08" font-size="9.5" text-anchor="end" fill="#1e1e1e" letter-spacing="0.3">10</text>
<line x1="317.30" y1="555.36" x2="321.10" y2="555.36" stroke="#111" stroke-width="1.3" />
<text x="314.80" y="558.36" font-size="9.5" text-anchor="end" fill="#1e1e1e" letter-spacing="0.3">20</text>
<line x1="317.30" y1="531.64" x2="321.10" y2="531.64" stroke="#111" stroke-width="1.3" />
<text x="314.80" y="534.64" font-size="9.5" text-anchor="end" fill="#1e1e1e" letter-spacing="0.3">30</text>
<line x1="317.30" y1="507.92" x2="321.10" y2="507.92" stroke="#111" stroke-width="1.3" />
<text x="314.80" y="510.92" font-size="9.5" text-anchor="end" fill="#1e1e1e" letter-spacing="0.3">40</text>
<line x1="317.30" y1="484.20" x2="321.10" y2="484.20" stroke="#111" stroke-width="1.3" />
<text x="314.80" y="487.20" font-size="9.5" text-anchor="end" fill="#1e1e1e" letter-spacing="0.3">50</text>
<rect x="333.9" y="592.3" width="17.30" height="10.50" fill="#ab002e"/>
<rect x="351.2" y="546.3" width="16.60" height="56.50" fill="#2e4d7e"/>
<rect x="395" y="593.2" width="16.75" height="9.60" fill="#ab002e"/>
<rect x="411.75" y="560" width="16.55" height="42.80" fill="#2e4d7e"/>
<rect x="455.8" y="594" width="16.70" height="8.80" fill="#ab002e"/>
<rect x="472.5" y="525" width="16.80" height="77.80" fill="#2e4d7e"/>
<line x1="340.00" y1="592.50" x2="344.80" y2="592.50" stroke="#1a0508" stroke-width="1.2" />
<line x1="400.80" y1="593.40" x2="405.80" y2="593.40" stroke="#1a0508" stroke-width="1.2" />
<line x1="461.60" y1="594.20" x2="466.60" y2="594.20" stroke="#1a0508" stroke-width="1.2" />
<line x1="359.40" y1="526.90" x2="359.40" y2="546.30" stroke="#111" stroke-width="1.5" />
<line x1="356.30" y1="526.90" x2="362.00" y2="526.90" stroke="#111" stroke-width="1.6" />
<line x1="420.00" y1="551.50" x2="420.00" y2="560.00" stroke="#111" stroke-width="1.5" />
<line x1="417.00" y1="551.50" x2="422.50" y2="551.50" stroke="#111" stroke-width="1.6" />
<line x1="480.50" y1="501.50" x2="480.50" y2="525.00" stroke="#111" stroke-width="1.5" />
<line x1="477.50" y1="501.50" x2="483.30" y2="501.50" stroke="#111" stroke-width="1.6" />
<line x1="321.10" y1="602.80" x2="504.40" y2="602.80" stroke="#111" stroke-width="1.6" />
<text class="s" x="350.80" y="615.00" font-size="9.2" text-anchor="middle" fill="#1e1e1e" textLength="14.30" lengthAdjust="spacingAndGlyphs">WT</text>
<text class="s" x="411.00" y="615.00" font-size="9.2" text-anchor="middle" fill="#1e1e1e" textLength="34.22" lengthAdjust="spacingAndGlyphs">HMGB1</text>
<text class="s" x="411.00" y="626.60" font-size="9.2" text-anchor="middle" fill="#1e1e1e" textLength="15.48" lengthAdjust="spacingAndGlyphs">Flox</text>
<text class="s" x="471.50" y="615.00" font-size="9.2" text-anchor="middle" fill="#1e1e1e" textLength="34.22" lengthAdjust="spacingAndGlyphs">HMGB1</text>
<text class="s" x="471.50" y="626.60" font-size="9.2" text-anchor="middle" fill="#1e1e1e" textLength="16.17" lengthAdjust="spacingAndGlyphs">PF4</text>
<text transform="translate(292.00,541.60) rotate(-90)" x="0" y="3.6" font-size="11" text-anchor="middle" fill="#1e1e1e" stroke="#1e1e1e" stroke-width="0.3" textLength="20.3" lengthAdjust="spacingAndGlyphs">ng/ml</text>
<rect x="328.3" y="482" width="7.3" height="6.7" fill="#ab002e"/>
<rect x="328.3" y="495.4" width="7.3" height="7.3" fill="#2e4d7e"/>
<text x="338.80" y="488.60" font-size="9" text-anchor="start" fill="#1e1e1e" class="s">Cont</text>
<text x="338.80" y="502.20" font-size="9" text-anchor="start" fill="#1e1e1e" class="s">CLP</text>
</svg>
</body></html>
